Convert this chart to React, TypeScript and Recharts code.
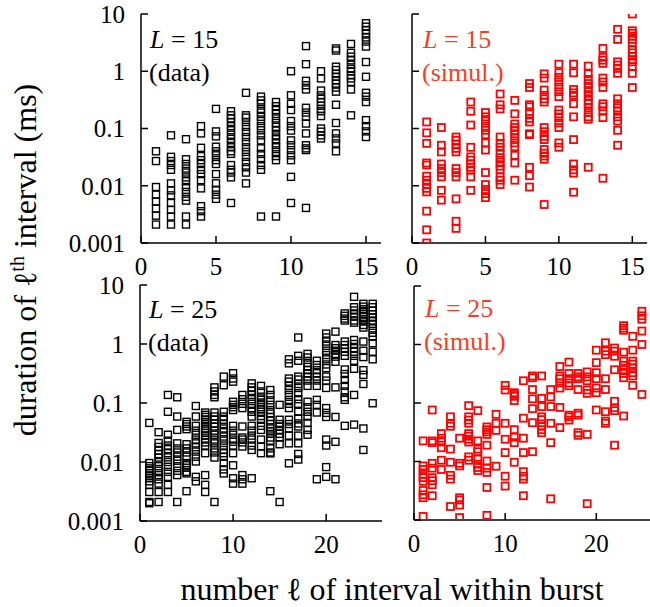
import { ScatterChart, Scatter, XAxis, YAxis } from "recharts";

const FONT = '"Liberation Serif", "Times New Roman", serif';
const RED = "#ff0000";
const RED_TEXT = "#ff3b1f";

const yTicks = [0.001, 0.01, 0.1, 1, 10];
const xTicks15 = [0, 5, 10, 15];
const xTicks25 = [0, 10, 20];

// duration (ms) of the l-th interval; one list per l = 1, 2, 3, ...
const l15Data: number[][] = [
  [0.04, 0.027, 0.0095, 0.007, 0.0053, 0.004, 0.003, 0.0021],
  [0.076, 0.032, 0.027, 0.023, 0.019, 0.011, 0.0083, 0.0068, 0.005, 0.0038, 0.0029, 0.0021],
  [0.065, 0.029, 0.024, 0.02, 0.017, 0.014, 0.012, 0.0095, 0.0078, 0.0064, 0.0055, 0.0029, 0.0021],
  [0.11, 0.082, 0.046, 0.033, 0.028, 0.024, 0.019, 0.016, 0.0125, 0.009, 0.0044, 0.0036, 0.0029],
  [0.22, 0.089, 0.073, 0.048, 0.04, 0.034, 0.028, 0.024, 0.016, 0.011, 0.0085, 0.007, 0.0059],
  [0.2, 0.17, 0.15, 0.13, 0.11, 0.093, 0.078, 0.066, 0.056, 0.047, 0.04, 0.036, 0.023, 0.019, 0.017, 0.014, 0.005],
  [0.42, 0.17, 0.155, 0.13, 0.107, 0.087, 0.071, 0.058, 0.047, 0.039, 0.032, 0.026, 0.021, 0.017, 0.011],
  [0.36, 0.31, 0.27, 0.22, 0.19, 0.16, 0.135, 0.11, 0.093, 0.076, 0.062, 0.045, 0.036, 0.029, 0.023, 0.019, 0.0029],
  [0.29, 0.245, 0.21, 0.18, 0.15, 0.125, 0.107, 0.092, 0.076, 0.065, 0.055, 0.047, 0.039, 0.033, 0.028, 0.0029],
  [1.0, 0.38, 0.27, 0.21, 0.135, 0.11, 0.092, 0.062, 0.051, 0.042, 0.034, 0.028, 0.0143, 0.005],
  [2.75, 1.33, 0.68, 0.57, 0.48, 0.23, 0.19, 0.16, 0.122, 0.082, 0.051, 0.045, 0.042, 0.0041],
  [1.0, 0.75, 0.46, 0.38, 0.33, 0.29, 0.25, 0.22, 0.2, 0.165, 0.1, 0.088, 0.076, 0.067],
  [2.5, 2.3, 1.2, 1.05, 0.9, 0.8, 0.7, 0.61, 0.52, 0.44, 0.26, 0.125, 0.082, 0.067, 0.055, 0.04],
  [3.0, 2.1, 1.8, 1.55, 1.3, 1.1, 1.0, 0.85, 0.75, 0.65, 0.48, 0.17],
  [6.9, 6.0, 5.25, 4.6, 3.9, 3.3, 2.7, 1.45, 0.8, 0.42, 0.36, 0.29, 0.14, 0.11, 0.089, 0.071],
];

const l15Simul: number[][] = [
  [0.13, 0.084, 0.055, 0.025, 0.023, 0.0147, 0.0125, 0.0106, 0.009, 0.0078, 0.0036, 0.0017, 0.001],
  [0.104, 0.051, 0.039, 0.024, 0.02, 0.017, 0.0143, 0.0083, 0.0056],
  [0.071, 0.062, 0.053, 0.045, 0.039, 0.02, 0.017, 0.0143, 0.0059, 0.0024, 0.0018],
  [0.29, 0.2, 0.115, 0.047, 0.032, 0.028, 0.024, 0.021, 0.0187, 0.0143, 0.0083],
  [0.19, 0.16, 0.135, 0.11, 0.093, 0.078, 0.056, 0.042, 0.017, 0.0105, 0.0086, 0.0073, 0.0062],
  [0.4, 0.26, 0.22, 0.071, 0.055, 0.047, 0.037, 0.031, 0.026, 0.022, 0.019, 0.0143, 0.0125, 0.0105],
  [0.31, 0.18, 0.12, 0.104, 0.092, 0.081, 0.068, 0.056, 0.048, 0.034, 0.025, 0.0125],
  [0.61, 0.52, 0.26, 0.24, 0.18, 0.15, 0.13, 0.081, 0.078, 0.021, 0.015, 0.0095],
  [0.9, 0.76, 0.47, 0.38, 0.33, 0.29, 0.104, 0.088, 0.073, 0.064, 0.043, 0.037, 0.033, 0.029, 0.0047],
  [1.33, 0.94, 0.78, 0.65, 0.53, 0.44, 0.36, 0.21, 0.18, 0.155, 0.125, 0.104, 0.056, 0.047],
  [1.33, 0.94, 0.48, 0.42, 0.38, 0.27, 0.16, 0.064, 0.024, 0.019, 0.0166, 0.0077],
  [1.23, 0.9, 0.72, 0.61, 0.52, 0.44, 0.37, 0.31, 0.27, 0.23, 0.19, 0.16, 0.145, 0.021],
  [2.5, 1.75, 1.56, 1.37, 0.76, 0.65, 0.52, 0.27, 0.24, 0.2, 0.155, 0.0135],
  [5.4, 3.6, 1.46, 1.28, 1.12, 0.92, 0.33, 0.27, 0.23, 0.2, 0.16, 0.135, 0.093, 0.051],
  [10, 5.1, 4.6, 4.1, 3.6, 3.1, 2.4, 2.1, 1.83, 1.6, 1.46, 1.2, 0.92, 0.52],
];

const l25Data: number[][] = [
  [0.046, 0.0096, 0.0085, 0.0078, 0.0071, 0.0065, 0.0058, 0.0053, 0.0047, 0.0041, 0.0031, 0.0021, 0.002],
  [0.032, 0.021, 0.018, 0.0155, 0.0136, 0.0119, 0.01, 0.0085, 0.0071, 0.006, 0.0051, 0.0043, 0.0031, 0.0021],
  [0.137, 0.071, 0.029, 0.023, 0.019, 0.0165, 0.0141, 0.012, 0.01, 0.0083, 0.0068, 0.0056, 0.0041, 0.0031],
  [0.125, 0.059, 0.035, 0.0207, 0.017, 0.0145, 0.0123, 0.0105, 0.0085, 0.0071, 0.006, 0.0021],
  [0.048, 0.044, 0.04, 0.036, 0.02, 0.017, 0.0145, 0.0123, 0.0096, 0.0088, 0.008, 0.0068, 0.0064, 0.0032],
  [0.089, 0.059, 0.041, 0.034, 0.029, 0.024, 0.0207, 0.0178, 0.015, 0.0123, 0.0102, 0.0056, 0.0047],
  [0.069, 0.063, 0.058, 0.052, 0.047, 0.041, 0.037, 0.034, 0.031, 0.028, 0.024, 0.0215, 0.019, 0.0141, 0.006, 0.0041, 0.0031],
  [0.184, 0.157, 0.137, 0.125, 0.069, 0.059, 0.052, 0.045, 0.04, 0.034, 0.029, 0.024, 0.0207, 0.017, 0.0145, 0.0119, 0.0021],
  [0.28, 0.2, 0.071, 0.059, 0.052, 0.044, 0.037, 0.032, 0.027, 0.023, 0.019, 0.016, 0.0141, 0.0123, 0.0096, 0.0075, 0.0064],
  [0.32, 0.26, 0.23, 0.105, 0.093, 0.085, 0.076, 0.041, 0.034, 0.029, 0.024, 0.022, 0.019, 0.0141, 0.0088, 0.0053, 0.0043],
  [0.137, 0.116, 0.097, 0.082, 0.04, 0.026, 0.024, 0.0215, 0.0183, 0.006, 0.0051, 0.0043],
  [0.215, 0.184, 0.16, 0.137, 0.116, 0.097, 0.082, 0.071, 0.059, 0.041, 0.034, 0.028, 0.024, 0.019, 0.016, 0.0053],
  [0.195, 0.157, 0.128, 0.113, 0.102, 0.093, 0.085, 0.078, 0.071, 0.06, 0.052, 0.041, 0.035, 0.024, 0.0183, 0.0141],
  [0.166, 0.137, 0.111, 0.093, 0.076, 0.066, 0.058, 0.051, 0.044, 0.037, 0.033, 0.03, 0.026, 0.023, 0.017, 0.0145, 0.014, 0.0032],
  [0.093, 0.052, 0.044, 0.04, 0.035, 0.03, 0.026, 0.02, 0.0021],
  [0.55, 0.47, 0.26, 0.23, 0.195, 0.166, 0.137, 0.113, 0.097, 0.082, 0.052, 0.044, 0.037, 0.028, 0.0207, 0.0095],
  [1.29, 0.63, 0.52, 0.28, 0.25, 0.21, 0.18, 0.147, 0.116, 0.097, 0.071, 0.055, 0.045, 0.04, 0.028, 0.0207, 0.0137, 0.011],
  [0.68, 0.59, 0.48, 0.41, 0.36, 0.32, 0.28, 0.24, 0.195, 0.105, 0.085, 0.071, 0.059, 0.046, 0.035, 0.029],
  [0.52, 0.44, 0.36, 0.32, 0.28, 0.24, 0.195, 0.113, 0.093, 0.069, 0.0051],
  [1.5, 1.29, 1.1, 0.93, 0.77, 0.65, 0.55, 0.45, 0.39, 0.28, 0.24, 0.18, 0.082, 0.068, 0.058, 0.024, 0.019, 0.0082, 0.0056],
  [1.62, 0.96, 0.85, 0.77, 0.68, 0.61, 0.5, 0.184, 0.058, 0.022, 0.0051],
  [3.3, 3.0, 2.7, 2.5, 1.1, 0.96, 0.85, 0.74, 0.63, 0.37, 0.31, 0.246, 0.195, 0.157, 0.125, 0.113, 0.041],
  [6.3, 4.2, 3.7, 3.3, 2.9, 2.5, 2.3, 1.17, 1.0, 0.85, 0.74, 0.63, 0.52, 0.38, 0.137, 0.043],
  [4.8, 4.3, 3.9, 3.5, 3.2, 2.9, 2.6, 2.4, 2.1, 1.9, 1.1, 0.77, 0.6, 0.36, 0.3, 0.21, 0.037, 0.016],
  [4.8, 4.2, 3.7, 3.2, 2.8, 2.5, 2.2, 1.84, 1.55, 1.33, 1.03, 0.74, 0.55, 0.099],
];

const l25Simul: number[][] = [
  [0.0225, 0.0084, 0.0073, 0.006, 0.0053, 0.0046, 0.0032, 0.0027, 0.0024, 0.00115],
  [0.076, 0.0225, 0.021, 0.0093, 0.0077, 0.0053, 0.0047, 0.004, 0.0026],
  [0.03, 0.025, 0.0215, 0.0172, 0.0105, 0.0073],
  [0.058, 0.045, 0.04, 0.0163, 0.0097, 0.0058, 0.005, 0.0017],
  [0.025, 0.0093, 0.0084, 0.0024, 0.0022, 0.0018, 0.0011],
  [0.09, 0.058, 0.051, 0.045, 0.03, 0.027, 0.024, 0.0215, 0.012, 0.0105],
  [0.074, 0.0225, 0.0163, 0.0147, 0.011, 0.009, 0.0079, 0.007],
  [0.039, 0.035, 0.032, 0.029, 0.019, 0.0102, 0.0077, 0.0065, 0.0036, 0.0012],
  [0.064, 0.045, 0.034, 0.0083],
  [0.2, 0.167, 0.045, 0.024, 0.0142, 0.0056, 0.0038],
  [0.15, 0.14, 0.13, 0.11, 0.035, 0.026, 0.021, 0.0097],
  [0.24, 0.055, 0.025, 0.0142, 0.0067, 0.0056, 0.005, 0.0026],
  [0.29, 0.27, 0.17, 0.118, 0.08, 0.046, 0.0147],
  [0.29, 0.12, 0.087, 0.058, 0.052, 0.04, 0.035, 0.031],
  [0.17, 0.127, 0.087, 0.045, 0.021, 0.0023],
  [0.42, 0.29, 0.26, 0.22, 0.18, 0.084, 0.038],
  [0.5, 0.32, 0.26, 0.22, 0.197, 0.062, 0.058, 0.051],
  [0.32, 0.28, 0.26, 0.17, 0.067, 0.062, 0.031, 0.028],
  [0.34, 0.28, 0.24, 0.167, 0.146, 0.029, 0.0019],
  [0.8, 0.49, 0.33, 0.26, 0.18, 0.15, 0.076],
  [1.07, 0.77, 0.67, 0.26, 0.17, 0.071, 0.049, 0.045],
  [0.87, 0.77, 0.63, 0.37, 0.107, 0.083, 0.074, 0.019],
  [2.1, 1.9, 1.75, 0.74, 0.52, 0.44, 0.37, 0.32, 0.27, 0.06],
  [1.38, 0.8, 0.52, 0.46, 0.4, 0.33, 0.29, 0.2],
  [3.7, 3.1, 2.7, 1.7, 1.0, 0.14],
];

const toPoints = (cols: number[][]) =>
  cols.flatMap((ys, i) => ys.map((d) => ({ l: i + 1, d })));

type Box = { x0: number; y0: number; x1: number; y1: number };

const TICK = 7;
const axisLine = { stroke: "#000", strokeWidth: 1.5 };

const PAD_L = 90;
const PAD_T = 24;
const PAD_R = 10;
const PAD_B = 50;
const Y_W = 70;
const X_H = 40;

function Panel({
  box,
  cols,
  xMax,
  xTicks,
  color,
  strokeWidth,
  showYLabels,
}: {
  box: Box;
  cols: number[][];
  xMax: number;
  xTicks: number[];
  color: string;
  strokeWidth: number;
  showYLabels: boolean;
}) {
  const width = box.x1 - box.x0 + PAD_L + PAD_R;
  const height = box.y1 - box.y0 + PAD_T + PAD_B;
  const data = toPoints(cols);

  const square = (p: any) => (
    <rect
      x={p.cx - 3.5}
      y={p.cy - 3.5}
      width={7}
      height={7}
      fill="none"
      stroke={color}
      strokeWidth={strokeWidth}
    />
  );

  const bottomTick = (p: any) => (
    <g>
      <line x1={p.x} x2={p.x} y1={p.y} y2={p.y - TICK} stroke="#000" strokeWidth={1.5} />
      <text x={p.x} y={p.y + 32} textAnchor="middle" fontFamily={FONT} fontSize={25} fill="#000">
        {p.payload.value}
      </text>
    </g>
  );
  const topTick = (p: any) => (
    <line x1={p.x} x2={p.x} y1={p.y} y2={p.y + TICK} stroke="#000" strokeWidth={1.5} />
  );
  const leftTick = (p: any) => (
    <g>
      <line x1={p.x} x2={p.x + TICK} y1={p.y} y2={p.y} stroke="#000" strokeWidth={1.5} />
      {showYLabels && (
        <text x={p.x - 16} y={p.y} dy="0.35em" textAnchor="end" fontFamily={FONT} fontSize={25} fill="#000">
          {String(p.payload.value)}
        </text>
      )}
    </g>
  );
  const rightTick = (p: any) => (
    <line x1={p.x} x2={p.x - TICK} y1={p.y} y2={p.y} stroke="#000" strokeWidth={1.5} />
  );

  return (
    <div style={{ position: "absolute", left: box.x0 - PAD_L, top: box.y0 - PAD_T }}>
      <ScatterChart
        width={width}
        height={height}
        margin={{ top: PAD_T, right: PAD_R, bottom: PAD_B - X_H, left: PAD_L - Y_W }}
      >
        <XAxis
          xAxisId="b"
          dataKey="l"
          type="number"
          domain={[0, xMax]}
          ticks={xTicks}
          interval={0}
          allowDataOverflow
          height={X_H}
          tickSize={0}
          tickMargin={0}
          tickLine={false}
          axisLine={axisLine}
          tick={bottomTick}
        />
        <XAxis
          xAxisId="t"
          orientation="top"
          type="number"
          domain={[0, xMax]}
          ticks={xTicks}
          interval={0}
          allowDataOverflow
          height={0}
          tickSize={0}
          tickMargin={0}
          tickLine={false}
          axisLine={axisLine}
          tick={topTick}
        />
        <YAxis
          yAxisId="l"
          dataKey="d"
          type="number"
          scale="log"
          domain={[0.001, 10]}
          ticks={yTicks}
          interval={0}
          allowDataOverflow
          width={Y_W}
          tickSize={0}
          tickMargin={0}
          tickLine={false}
          axisLine={axisLine}
          tick={leftTick}
        />
        <YAxis
          yAxisId="r"
          orientation="right"
          type="number"
          scale="log"
          domain={[0.001, 10]}
          ticks={yTicks}
          interval={0}
          allowDataOverflow
          width={0}
          tickSize={0}
          tickMargin={0}
          tickLine={false}
          axisLine={axisLine}
          tick={rightTick}
        />
        <Scatter
          xAxisId="b"
          yAxisId="l"
          data={data}
          shape={square}
          isAnimationActive={false}
        />
      </ScatterChart>
    </div>
  );
}

function Tag({ x, y, n, sub, fill }: { x: number; y: number; n: number; sub: string; fill: string }) {
  return (
    <g fontFamily={FONT} fontSize={26} fill={fill}>
      <text x={x} y={y}>
        <tspan fontStyle="italic">L</tspan> = {n}
      </text>
      <text x={x - 1} y={y + 33}>
        {sub}
      </text>
    </g>
  );
}

export default function App() {
  return (
    <div
      style={{
        position: "absolute",
        left: 0,
        top: 0,
        width: 650,
        height: 607,
        overflow: "hidden",
        background: "#fff",
      }}
    >
      <Panel
        box={{ x0: 141, y0: 14, x1: 381, y1: 243 }}
        cols={l15Data}
        xMax={16}
        xTicks={xTicks15}
        color="#000"
        strokeWidth={1.4}
        showYLabels
      />
      <Panel
        box={{ x0: 412, y0: 14, x1: 647, y1: 243 }}
        cols={l15Simul}
        xMax={16}
        xTicks={xTicks15}
        color={RED}
        strokeWidth={1.8}
        showYLabels={false}
      />
      <Panel
        box={{ x0: 140, y0: 285, x1: 382, y1: 521 }}
        cols={l25Data}
        xMax={26}
        xTicks={xTicks25}
        color="#000"
        strokeWidth={1.4}
        showYLabels
      />
      <Panel
        box={{ x0: 414, y0: 286, x1: 651, y1: 520 }}
        cols={l25Simul}
        xMax={26}
        xTicks={xTicks25}
        color={RED}
        strokeWidth={1.8}
        showYLabels={false}
      />
      <svg
        width={650}
        height={607}
        style={{ position: "absolute", left: 0, top: 0, pointerEvents: "none" }}
      >
        <Tag x={150} y={48} n={15} sub="(data)" fill="#000" />
        <Tag x={423} y={48} n={15} sub="(simul.)" fill={RED_TEXT} />
        <Tag x={149} y={318} n={25} sub="(data)" fill="#000" />
        <Tag x={425} y={317} n={25} sub="(simul.)" fill={RED_TEXT} />
        <text
          x={36}
          y={260}
          transform="rotate(-90 36 260)"
          textAnchor="middle"
          fontFamily={FONT}
          fontSize={32}
          fill="#000"
        >
          duration of ℓ
          <tspan dy={-12} fontSize={20}>th</tspan>
          <tspan dy={12}> interval (ms)</tspan>
        </text>
        <text x={392} y={600} textAnchor="middle" fontFamily={FONT} fontSize={32} fill="#000">
          number ℓ of interval within burst
        </text>
      </svg>
    </div>
  );
}
